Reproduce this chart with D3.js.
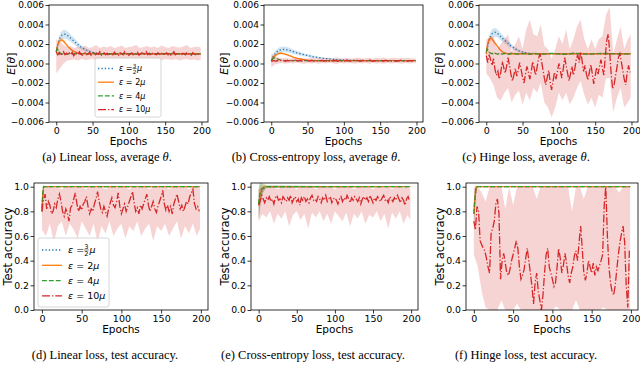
<!DOCTYPE html>
<html><head><meta charset="utf-8">
<script src="https://cdn.jsdelivr.net/npm/d3@7"></script>
<style>body{margin:0;background:#fff}svg{display:block}</style>
</head><body><svg id="c" width="640" height="365"></svg>
<script>
// ---------- epoch grids ----------
const epochsSmooth = [0,1,2,3,4,5,6,7,8,10,12,14,16,18,20,22,25,28,31,35,40,45,50,55,60,65,70,80,90,100,110,120,130,140,160,180,199];
const epochsAcc = [0,1,2,3,4,6,8,10,199];
const epochsRed = d3.range(0,199,2);            // 0,2,...,198
const epochsBand = [0,5,10,15,20,25,30,35,40,45,50,55,60,65,70,75,80,85,90,95,100,105,110,115,120,125,130,135,140,145,150,155,160,165,170,175,180,185,190,195,199];

const epsLabels = ["3/2","2","4","10"];
const xTicks = [0,50,100,150,200];
const thetaTicks = [-6,-4,-2,0,2,4,6];   // in units of 1e-3
const accTicks = [0,0.2,0.4,0.6,0.8,1.0];

// ---------- (a) linear loss, average theta (x 1e-3) ----------
const aBlue = [1.2,1.6,1.9,2.2,2.4,2.6,2.75,2.85,2.92,3.0,3.0,2.95,2.85,2.72,2.58,2.45,2.25,2.05,1.85,1.62,1.42,1.26,1.14,1.06,1.02,1.0,1.0,1.0,1.0,1.0,1.0,1.0,1.0,1.0,1.0,1.0,1.0];
const aBlueSd = [0.2,0.25,0.3,0.35,0.38,0.4,0.42,0.44,0.45,0.45,0.45,0.44,0.42,0.4,0.38,0.36,0.33,0.3,0.27,0.23,0.18,0.14,0.1,0.08,0.07,0.06,0.06,0.05,0.05,0.05,0.05,0.05,0.05,0.05,0.05,0.05,0.05];
const aOrange = [1.2,1.6,1.9,2.1,2.25,2.35,2.4,2.42,2.4,2.3,2.12,1.93,1.76,1.6,1.46,1.35,1.22,1.12,1.06,1.02,1.0,1.0,1.0,1.0,1.0,1.0,1.0,1.0,1.0,1.0,1.0,1.0,1.0,1.0,1.0,1.0,1.0];
const aOrangeSd = [0.2,0.2,0.22,0.24,0.25,0.25,0.25,0.25,0.24,0.22,0.2,0.18,0.16,0.14,0.12,0.1,0.08,0.07,0.06,0.05,0.05,0.05,0.05,0.05,0.05,0.05,0.05,0.05,0.05,0.05,0.05,0.05,0.05,0.05,0.05,0.05,0.05];
const aGreen = [1.2,1.5,1.45,1.3,1.18,1.1,1.05,1.02,1.0,0.98,1.02,1.0,0.97,1.03,1.0,0.98,1.02,1.0,0.97,1.02,1.0,0.98,1.03,1.0,0.97,1.02,1.0,0.98,1.02,1.0,0.97,1.03,1.0,0.98,1.02,1.0,0.99];
const aGreenSd = [0.3,0.25,0.2,0.15,0.1,0.08,0.06,0.05,0.05,0.05,0.05,0.05,0.05,0.05,0.05,0.05,0.05,0.05,0.05,0.05,0.05,0.05,0.05,0.05,0.05,0.05,0.05,0.05,0.05,0.05,0.05,0.05,0.05,0.05,0.05,0.05,0.05];
const aRed = [1.2,0.9,1.1,0.8,1.0,1.2,0.9,1.05,0.85,1.1,0.95,1.15,0.8,1.0,1.1,0.9,1.2,0.95,0.85,1.05,1.1,0.9,1.0,1.15,0.85,1.0,1.1,0.9,1.05,0.95,1.2,0.85,1.0,1.1,0.9,1.05,0.8,1.1,1.0,0.9,1.15,0.95,1.0,0.85,1.1,1.0,0.9,1.2,0.95,1.05,0.85,1.0,1.1,0.9,1.05,0.95,1.15,0.85,1.0,1.1,0.9,1.0,1.2,0.9,1.05,0.85,1.0,1.1,0.95,0.9,1.1,1.0,0.85,1.15,0.95,1.0,1.1,0.9,1.05,0.85,1.0,1.2,0.9,1.0,1.1,0.95,0.85,1.05,1.0,0.9,1.15,0.95,1.0,0.85,1.1,1.0,0.9,1.05,0.95,0.8];
const aRedLo = [-1.0,-0.5,0.0,0.3,0.35,0.4,0.3,0.45,0.35,0.4,0.5,0.3,0.4,0.45,0.35,0.4,0.3,0.45,0.4,0.35,0.5,0.4,0.3,0.45,0.35,0.4,0.5,0.35,0.4,0.3,0.45,0.4,0.35,0.45,0.3,0.4,0.45,0.35,0.4,0.3,0.4];
const aRedHi = [2.5,2.2,1.9,1.7,1.8,1.6,1.75,1.65,1.85,1.6,1.7,1.9,1.6,1.75,1.65,1.8,1.6,1.7,1.85,1.6,1.7,1.75,1.9,1.6,1.7,1.8,1.65,1.75,1.6,1.85,1.7,1.6,1.8,1.7,1.65,1.75,1.9,1.6,1.7,1.75,1.65];

// ---------- (b) cross-entropy loss, average theta (x 1e-3) ----------
const bBlue = [0.3,0.45,0.6,0.75,0.85,0.95,1.05,1.12,1.2,1.3,1.38,1.42,1.45,1.45,1.43,1.4,1.35,1.28,1.2,1.1,1.0,0.9,0.82,0.74,0.67,0.6,0.55,0.47,0.4,0.36,0.33,0.31,0.3,0.3,0.3,0.3,0.3];
const bBlueSd = [0.3,0.3,0.3,0.3,0.3,0.3,0.3,0.3,0.3,0.3,0.3,0.3,0.3,0.3,0.3,0.28,0.26,0.24,0.22,0.2,0.18,0.16,0.14,0.12,0.1,0.09,0.08,0.07,0.06,0.05,0.05,0.05,0.05,0.05,0.05,0.05,0.05];
const bOrange = [0.3,0.4,0.5,0.6,0.7,0.78,0.85,0.9,0.95,1.02,1.05,1.05,1.02,0.98,0.93,0.88,0.8,0.72,0.64,0.55,0.46,0.4,0.35,0.32,0.3,0.3,0.3,0.3,0.3,0.3,0.3,0.3,0.3,0.3,0.3,0.3,0.3];
const bOrangeSd = [0.3,0.28,0.25,0.22,0.2,0.18,0.16,0.15,0.15,0.14,0.13,0.12,0.11,0.1,0.1,0.09,0.08,0.07,0.06,0.05,0.05,0.04,0.04,0.04,0.04,0.04,0.04,0.04,0.04,0.04,0.04,0.04,0.04,0.04,0.04,0.04,0.04];
const bGreen = [0.3,0.4,0.5,0.55,0.57,0.57,0.55,0.52,0.48,0.42,0.37,0.34,0.32,0.3,0.3,0.3,0.3,0.3,0.3,0.3,0.3,0.3,0.3,0.3,0.3,0.3,0.3,0.3,0.3,0.3,0.3,0.3,0.3,0.3,0.3,0.3,0.3];
const bGreenSd = [0.3,0.25,0.2,0.15,0.1,0.08,0.07,0.06,0.05,0.04,0.04,0.04,0.04,0.04,0.04,0.04,0.04,0.04,0.04,0.04,0.04,0.04,0.04,0.04,0.04,0.04,0.04,0.04,0.04,0.04,0.04,0.04,0.04,0.04,0.04,0.04,0.04];
const bRed = [0.3,0.25,0.32,0.22,0.3,0.27,0.35,0.24,0.3,0.28,0.22,0.33,0.27,0.3,0.24,0.31,0.26,0.35,0.23,0.29,0.32,0.25,0.28,0.34,0.22,0.3,0.27,0.24,0.33,0.28,0.25,0.3,0.22,0.31,0.27,0.34,0.24,0.29,0.26,0.32,0.23,0.3,0.28,0.25,0.33,0.27,0.22,0.3,0.26,0.31,0.28,0.24,0.34,0.27,0.3,0.23,0.29,0.32,0.25,0.28,0.31,0.22,0.27,0.33,0.26,0.3,0.24,0.29,0.35,0.26,0.23,0.3,0.28,0.32,0.25,0.27,0.31,0.22,0.29,0.33,0.26,0.3,0.24,0.28,0.32,0.27,0.23,0.3,0.26,0.34,0.28,0.25,0.31,0.27,0.22,0.3,0.29,0.26,0.32,0.28];
const bRedLo = [-0.4,-0.1,0.0,0.05,-0.02,0.05,0.0,0.08,0.02,-0.03,0.05,0.0,0.06,-0.02,0.04,0.0,0.07,0.02,-0.04,0.05,0.0,0.06,0.02,-0.03,0.05,0.0,0.04,-0.02,0.06,0.01,0.03,-0.03,0.05,0.0,0.06,0.02,-0.02,0.05,0.0,0.03,0.04];
const bRedHi = [1.0,0.8,0.6,0.55,0.62,0.5,0.58,0.52,0.6,0.55,0.5,0.62,0.53,0.58,0.5,0.6,0.54,0.5,0.63,0.55,0.52,0.6,0.5,0.57,0.62,0.52,0.55,0.6,0.5,0.58,0.54,0.62,0.5,0.56,0.6,0.52,0.58,0.55,0.6,0.5,0.54];

// ---------- (c) hinge loss, average theta (x 1e-3) ----------
const cBlue = [1.0,1.4,1.8,2.1,2.4,2.6,2.8,2.95,3.05,3.15,3.2,3.15,3.05,2.9,2.75,2.6,2.4,2.2,2.0,1.75,1.5,1.3,1.18,1.1,1.04,1.0,1.0,1.0,1.0,1.0,1.0,1.0,1.0,1.0,1.0,1.0,1.0];
const cBlueSd = [0.2,0.25,0.3,0.35,0.38,0.4,0.42,0.44,0.45,0.45,0.45,0.44,0.42,0.4,0.38,0.36,0.33,0.3,0.27,0.23,0.18,0.14,0.1,0.08,0.07,0.06,0.06,0.05,0.05,0.05,0.05,0.05,0.05,0.05,0.05,0.05,0.05];
const cOrange = [1.0,1.6,2.0,2.3,2.5,2.6,2.62,2.6,2.5,2.3,2.1,1.9,1.7,1.5,1.35,1.2,1.1,1.03,1.0,1.0,1.0,1.0,1.0,1.0,1.0,1.0,1.0,1.0,1.0,1.0,1.0,1.0,1.0,1.0,1.0,1.0,1.0];
const cOrangeSd = [0.2,0.22,0.24,0.25,0.25,0.25,0.25,0.24,0.22,0.2,0.18,0.16,0.14,0.12,0.1,0.08,0.07,0.06,0.05,0.05,0.05,0.05,0.05,0.05,0.05,0.05,0.05,0.05,0.05,0.05,0.05,0.05,0.05,0.05,0.05,0.05,0.05];
const cGreen = [1.2,1.5,1.4,1.25,1.15,1.1,1.05,1.0,1.05,0.95,1.05,1.0,0.95,1.05,1.0,0.96,1.04,1.0,0.95,1.05,1.0,0.96,1.04,1.0,0.95,1.05,1.0,0.97,1.04,1.0,0.95,1.05,1.0,0.96,1.04,1.0,0.98];
const cGreenSd = [0.3,0.25,0.2,0.15,0.1,0.08,0.07,0.07,0.07,0.07,0.07,0.07,0.07,0.07,0.07,0.07,0.07,0.07,0.07,0.07,0.07,0.07,0.07,0.07,0.07,0.07,0.07,0.07,0.07,0.07,0.07,0.07,0.07,0.07,0.07,0.07,0.07];
const cRed = [0.8,0.1,0.9,0.4,-0.2,0.5,-0.6,-1.2,-0.8,-1.6,-0.9,0.2,-0.4,-1.0,-0.3,0.6,-0.2,-1.1,-1.8,-1.2,-0.5,-1.3,-0.7,0.1,-0.6,-1.4,-2.0,-1.1,-0.3,-0.9,-1.6,-0.8,0.2,-0.5,-1.2,-0.4,0.5,1.0,0.3,-0.6,-1.5,-2.2,-1.4,-0.7,-1.9,-2.7,-1.8,-0.9,-1.6,-0.8,0.0,-0.7,-1.5,-0.6,0.6,-0.2,-1.0,-1.8,-1.1,-0.3,-1.2,-0.5,0.4,0.9,0.1,1.2,0.3,-0.8,-0.2,-1.1,-1.7,-0.9,-0.1,-1.0,-2.1,-1.3,-0.4,-1.1,-0.3,0.4,-0.5,-1.2,0.8,2.4,3.0,1.2,-1.0,-2.6,-2.2,-1.3,-0.4,0.6,1.0,0.2,-0.7,-1.6,-2.2,-1.0,-0.2,-0.9];
const cRedLo = [-1.0,-1.5,-2.2,-3.5,-3.8,-3.0,-2.5,-4.0,-3.2,-2.8,-4.2,-3.0,-3.8,-2.5,-3.0,-2.0,-4.0,-4.5,-5.5,-4.5,-3.0,-3.8,-3.0,-4.2,-3.5,-2.5,-1.8,-3.2,-4.2,-3.5,-4.5,-3.2,-3.5,-1.5,-1.5,-5.0,-3.5,-2.5,-4.5,-4.0,-3.5];
const cRedHi = [2.5,2.6,2.8,1.5,2.0,2.5,3.0,1.2,2.0,2.8,1.5,3.5,4.5,3.0,2.8,4.0,1.8,1.5,0.5,1.5,2.8,2.0,3.5,1.5,2.5,3.8,4.5,2.5,1.5,2.5,1.5,2.5,2.8,5.0,5.8,1.0,2.5,3.8,1.5,2.5,3.0];

// ---------- (d) linear loss, test accuracy ----------
const dBlue = [0.8,0.92,0.98,1,1,1,1,1,1];
const dOrange = [0.8,0.93,0.99,1,1,1,1,1,1];
const dGreen = [0.82,0.95,1,1,1,1,1,1,1];
const dSd = [0.06,0.05,0.02,0,0,0,0,0,0];
const dRed = [0.8,0.9,0.94,0.82,0.88,0.85,0.78,0.8,0.86,0.83,0.9,0.94,0.88,0.8,0.76,0.82,0.79,0.72,0.83,0.85,0.9,0.95,0.86,0.8,0.84,0.81,0.86,0.88,0.92,0.84,0.78,0.82,0.8,0.86,0.9,0.96,0.88,0.82,0.79,0.84,0.8,0.76,0.82,0.87,0.91,0.85,0.83,0.88,0.95,0.84,0.78,0.82,0.86,0.8,0.84,0.88,0.92,0.96,0.87,0.8,0.83,0.78,0.85,0.82,0.86,0.9,0.94,0.85,0.8,0.84,0.88,0.82,0.79,0.84,0.88,0.92,0.97,0.86,0.81,0.85,0.8,0.84,0.78,0.86,0.9,0.94,0.88,0.82,0.85,0.8,0.84,0.88,0.86,0.92,0.95,0.98,0.86,0.82,0.84,0.8];
const dRedLo = [0.65,0.6,0.7,0.55,0.68,0.72,0.6,0.7,0.65,0.58,0.72,0.66,0.6,0.7,0.55,0.68,0.62,0.72,0.6,0.66,0.7,0.58,0.68,0.64,0.72,0.6,0.66,0.7,0.56,0.68,0.64,0.7,0.6,0.66,0.72,0.58,0.68,0.62,0.7,0.6,0.66];
const dRedHi = [0.95,1.0,1.0,0.99,1.0,0.98,1.0,1.0,0.99,1.0,1.0,0.98,1.0,1.0,0.99,1.0,0.98,1.0,1.0,0.99,1.0,1.0,0.98,1.0,0.99,1.0,1.0,0.98,1.0,1.0,0.99,1.0,0.98,1.0,1.0,0.99,1.0,0.98,1.0,1.0,0.99];

// ---------- (e) cross-entropy loss, test accuracy ----------
const eBlue = [0.85,0.88,0.91,0.94,0.96,0.98,0.99,1,1];
const eOrange = [0.85,0.9,0.93,0.96,0.98,0.99,1,1,1];
const eGreen = [0.86,0.92,0.95,0.97,0.98,0.99,1,1,1];
const eSd = [0.12,0.12,0.1,0.08,0.06,0.03,0.02,0.01,0];
const eRed = [0.85,0.88,0.93,0.9,0.87,0.91,0.89,0.92,0.88,0.9,0.86,0.91,0.93,0.89,0.9,0.87,0.92,0.9,0.88,0.91,0.89,0.93,0.87,0.9,0.92,0.88,0.9,0.85,0.91,0.89,0.92,0.88,0.9,0.87,0.91,0.93,0.89,0.9,0.88,0.92,0.9,0.87,0.91,0.89,0.93,0.88,0.9,0.92,0.87,0.9,0.91,0.89,0.86,0.9,0.92,0.88,0.91,0.89,0.93,0.9,0.87,0.91,0.89,0.92,0.9,0.88,0.91,0.86,0.9,0.92,0.89,0.91,0.88,0.93,0.9,0.87,0.91,0.89,0.92,0.9,0.88,0.91,0.93,0.89,0.9,0.87,0.92,0.9,0.88,0.91,0.89,0.93,0.9,0.87,0.91,0.89,0.85,0.9,0.92,0.88];
const eRedLo = [0.72,0.78,0.75,0.8,0.7,0.78,0.74,0.8,0.68,0.77,0.8,0.73,0.78,0.66,0.79,0.75,0.8,0.72,0.78,0.7,0.8,0.76,0.72,0.79,0.68,0.78,0.74,0.8,0.7,0.77,0.75,0.8,0.72,0.78,0.66,0.79,0.74,0.8,0.7,0.77,0.73];
const eRedHi = [0.98,1.0,0.99,1.0,1.0,0.98,1.0,0.99,1.0,1.0,0.98,1.0,0.99,1.0,1.0,0.98,1.0,1.0,0.99,1.0,0.98,1.0,1.0,0.99,1.0,0.98,1.0,1.0,0.99,1.0,0.98,1.0,1.0,0.99,1.0,0.98,1.0,1.0,0.99,1.0,0.98];

// ---------- (f) hinge loss, test accuracy ----------
const fBlue = [0.78,0.86,0.93,0.98,1,1,1,1,1];
const fOrange = [0.78,0.87,0.94,0.99,1,1,1,1,1];
const fGreen = [0.78,0.88,0.95,1,1,1,1,1,1];
const fSd = [0.1,0.1,0.06,0.02,0,0,0,0,0];
const fRed = [0.72,0.65,0.84,0.8,0.56,0.53,0.5,0.48,0.42,0.35,0.3,0.62,0.66,0.72,0.86,0.9,0.78,0.25,0.4,0.46,0.38,0.3,0.28,0.33,0.4,0.45,0.5,0.56,0.5,0.35,0.25,0.28,0.33,0.42,0.5,0.4,0.3,0.19,0.05,0.22,0.3,0.15,0.08,0.0,0.12,0.3,0.45,0.5,0.35,0.3,0.25,0.19,0.22,0.35,0.5,0.42,0.3,0.36,0.46,0.38,0.28,0.22,0.3,0.35,0.44,0.48,0.4,0.55,0.68,0.5,0.3,0.24,0.3,0.4,0.35,0.3,0.38,0.28,0.35,0.32,0.36,0.4,0.45,0.85,1.0,0.6,0.35,0.22,0.15,0.12,0.2,0.33,0.45,0.55,0.62,0.68,0.55,0.2,0.02,0.48];
const fRedLo = [0.45,0.35,0.15,0.02,0.0,0.0,0.0,0.08,0.0,0.0,0.0,0.05,0.0,0.0,0.0,0.0,0.0,0.0,0.0,0.0,0.0,0.03,0.0,0.0,0.0,0.0,0.08,0.0,0.0,0.0,0.0,0.0,0.0,0.02,0.0,0.0,0.0,0.0,0.0,0.0,0.0];
const fRedHi = [1.0,1.0,0.95,0.88,1.0,1.0,1.0,1.0,0.82,1.0,0.85,1.0,1.0,1.0,1.0,1.0,0.9,1.0,1.0,1.0,1.0,1.0,1.0,1.0,1.0,0.8,1.0,1.0,0.9,1.0,1.0,1.0,1.0,1.0,1.0,1.0,1.0,0.95,1.0,1.0,1.0];

// ---------- styles ----------
const colors = ["#1f77b4","#ff7f0e","#2ca02c","#d62728"];
const dashes = ["1.3,2.1","none","4.8,2.1","8,2,1.3,2"];
const FONT = "'DejaVu Sans', sans-serif";
const SERIF = "'Liberation Serif', 'Times New Roman', serif";

const svg = d3.select("#c");

const panels = [
  {id:"a", x0:49, x1:208, y0:5, y1:122, kind:"theta", grid:epochsSmooth,
   series:[[aBlue,aBlueSd],[aOrange,aOrangeSd],[aGreen,aGreenSd]], red:aRed, redLo:aRedLo, redHi:aRedHi,
   cap:["(a) Linear loss, average ","θ","."], capX:107, capY:161, labX:15,
   legend:{x:95,y:58,w:66,h:59,fs:8,first:10.5,gap:13.7,hx:98,hl:16,tx:119}},
  {id:"b", x0:264, x1:423, y0:5, y1:122, kind:"theta", grid:epochsSmooth,
   series:[[bBlue,bBlueSd],[bOrange,bOrangeSd],[bGreen,bGreenSd]], red:bRed, redLo:bRedLo, redHi:bRedHi,
   cap:["(b) Cross-entropy loss, average ","θ","."], capX:316, capY:161, labX:228},
  {id:"c", x0:479, x1:638, y0:5, y1:122, kind:"theta", grid:epochsSmooth,
   series:[[cBlue,cBlueSd],[cOrange,cOrangeSd],[cGreen,cGreenSd]], red:cRed, redLo:cRedLo, redHi:cRedHi,
   cap:["(c) Hinge loss, average ","θ","."], capX:526, capY:161, labX:443},
  {id:"d", x0:34, x1:208, y0:183, y1:310, kind:"acc", grid:epochsAcc,
   series:[[dBlue,dSd],[dOrange,dSd],[dGreen,dSd]], red:dRed, redLo:dRedLo, redHi:dRedHi,
   cap:["(d) Linear loss, test accuracy."], capX:105, capY:359, labX:11.5,
   legend:{x:38,y:238,w:71,h:69,fs:9.5,first:12,gap:15.3,hx:42,hl:20,tx:68}},
  {id:"e", x0:251, x1:418, y0:183, y1:310, kind:"acc", grid:epochsAcc,
   series:[[eBlue,eSd],[eOrange,eSd],[eGreen,eSd]], red:eRed, redLo:eRedLo, redHi:eRedHi,
   cap:["(e) Cross-entropy loss, test accuracy."], capX:313, capY:359, labX:228.5},
  {id:"f", x0:466, x1:638, y0:183, y1:310, kind:"acc", grid:epochsAcc,
   series:[[fBlue,fSd],[fOrange,fSd],[fGreen,fSd]], red:fRed, redLo:fRedLo, redHi:fRedHi,
   cap:["(f) Hinge loss, test accuracy."], capX:526, capY:359, labX:443.5}
];

function drawPanel(p){
  const g = svg.append("g");
  const x = d3.scaleLinear().domain([-10,209]).range([p.x0,p.x1]);
  const y = p.kind==="theta" ? d3.scaleLinear().domain([-6,6]).range([p.y1,p.y0])
                             : d3.scaleLinear().domain([0,1.03]).range([p.y1,p.y0]);
  const clipId = "clip"+p.id;
  g.append("clipPath").attr("id",clipId).append("rect")
    .attr("x",p.x0).attr("y",p.y0).attr("width",p.x1-p.x0).attr("height",p.y1-p.y0);
  const plot = g.append("g").attr("clip-path",`url(#${clipId})`);
  const lw = 1.3;

  p.series.forEach(([m,s],i)=>{
    const pts = p.grid.map((e,k)=>({e, m:m[k], s:s[k]})).filter(d=>d.m!==undefined);
    plot.append("path").datum(pts)
      .attr("d", d3.area().x(d=>x(d.e)).y0(d=>y(d.m-d.s)).y1(d=>y(d.m+d.s)))
      .attr("fill",colors[i]).attr("fill-opacity",0.2).attr("stroke","none");
    plot.append("path").datum(pts)
      .attr("d", d3.line().x(d=>x(d.e)).y(d=>y(d.m)))
      .attr("fill","none").attr("stroke",colors[i]).attr("stroke-width",lw)
      .attr("stroke-dasharray",dashes[i]);
  });
  const band = epochsBand.map((e,k)=>({e, lo:p.redLo[k], hi:p.redHi[k]}));
  plot.append("path").datum(band)
    .attr("d", d3.area().x(d=>x(d.e)).y0(d=>y(d.lo)).y1(d=>y(d.hi)))
    .attr("fill",colors[3]).attr("fill-opacity",0.2).attr("stroke","none");
  const rl = epochsRed.map((e,k)=>({e, v:p.red[k]}));
  plot.append("path").datum(rl)
    .attr("d", d3.line().x(d=>x(d.e)).y(d=>y(d.v)))
    .attr("fill","none").attr("stroke",colors[3]).attr("stroke-width",lw)
    .attr("stroke-dasharray",dashes[3]);

  // axes
  const fs = p.kind==="theta" ? 9 : 9.3;
  const xa = g.append("g").attr("transform",`translate(0,${p.y1})`)
    .call(d3.axisBottom(x).tickValues(xTicks).tickSize(3.5).tickPadding(1.5).tickFormat(d3.format("d")));
  const ya = g.append("g").attr("transform",`translate(${p.x0},0)`)
    .call(d3.axisLeft(y).tickValues(p.kind==="theta"?thetaTicks:accTicks).tickSize(3.5).tickPadding(1.5)
      .tickFormat(p.kind==="theta" ? (d=>(d/1000).toFixed(3).replace("-","\u2212")) : (d=>d.toFixed(1))));
  [xa,ya].forEach(a=>{
    a.select(".domain").remove();
    a.selectAll("text").attr("font-family",FONT).attr("font-size",fs).attr("fill","#000");
    a.selectAll("line").attr("stroke","#000").attr("stroke-width",0.8);
  });
  xa.selectAll("text").attr("font-size",9.5);
  g.append("rect").attr("x",p.x0).attr("y",p.y0).attr("width",p.x1-p.x0).attr("height",p.y1-p.y0)
    .attr("fill","none").attr("stroke","#000").attr("stroke-width",0.8);

  // axis labels
  g.append("text").attr("x",(p.x0+p.x1)/2).attr("y",p.y1+22.5).attr("text-anchor","middle")
    .attr("font-family",FONT).attr("font-size",10.5).text("Epochs");
  const cy = (p.y0+p.y1)/2;
  if(p.kind==="theta"){
    const t = g.append("text").attr("transform",`translate(${p.labX},${cy}) rotate(-90)`)
      .attr("text-anchor","middle").attr("font-family",FONT).attr("font-size",11);
    t.append("tspan").attr("font-style","italic").text("E");
    t.append("tspan").text("[");
    t.append("tspan").attr("font-style","italic").text("θ");
    t.append("tspan").text("]");
  } else {
    g.append("text").attr("transform",`translate(${p.labX},${cy}) rotate(-90)`)
      .attr("text-anchor","middle").attr("font-family",FONT).attr("font-size",11.5).text("Test accuracy");
  }

  // caption
  const ct = g.append("text").attr("x",p.capX).attr("y",p.capY).attr("text-anchor","middle")
    .attr("font-family",SERIF).attr("font-size",12.5);
  p.cap.forEach((s,i)=>ct.append("tspan").attr("font-style", i===1?"italic":"normal").text(s));

  if(p.legend) drawLegend(g,p.legend);
}

function drawLegend(g,L){
  g.append("rect").attr("x",L.x).attr("y",L.y).attr("width",L.w).attr("height",L.h)
    .attr("rx",2).attr("fill","#fff").attr("fill-opacity",0.8).attr("stroke","#ccc").attr("stroke-width",0.8);
  epsLabels.forEach((lab,i)=>{
    const cy = L.y + L.first + i*L.gap;
    g.append("line").attr("x1",L.hx).attr("x2",L.hx+L.hl).attr("y1",cy).attr("y2",cy)
      .attr("stroke",colors[i]).attr("stroke-width",1.3).attr("stroke-dasharray",dashes[i]);
    const base = cy + L.fs*0.35;
    const t = g.append("text").attr("x",L.tx).attr("y",base).attr("font-family",FONT).attr("font-size",L.fs);
    t.append("tspan").attr("font-style","italic").text("ε");
    t.append("tspan").text(" = ");
    let xx = L.tx + t.node().getComputedTextLength();
    if(lab.includes("/")){
      const [n,dn] = lab.split("/");
      const fs2 = L.fs*0.7;
      g.append("text").attr("x",xx+fs2*0.35).attr("y",cy-1).attr("text-anchor","middle")
        .attr("font-family",FONT).attr("font-size",fs2).text(n);
      g.append("text").attr("x",xx+fs2*0.35).attr("y",cy+fs2*0.95).attr("text-anchor","middle")
        .attr("font-family",FONT).attr("font-size",fs2).text(dn);
      g.append("line").attr("x1",xx).attr("x2",xx+fs2*0.7).attr("y1",cy).attr("y2",cy)
        .attr("stroke","#000").attr("stroke-width",0.5);
      xx += fs2*0.8;
      g.append("text").attr("x",xx).attr("y",base).attr("font-family",FONT).attr("font-size",L.fs)
        .attr("font-style","italic").text("μ");
    } else {
      t.append("tspan").text(lab);
      t.append("tspan").attr("font-style","italic").text("μ");
    }
  });
}

panels.forEach(drawPanel);
</script>
</body></html>
